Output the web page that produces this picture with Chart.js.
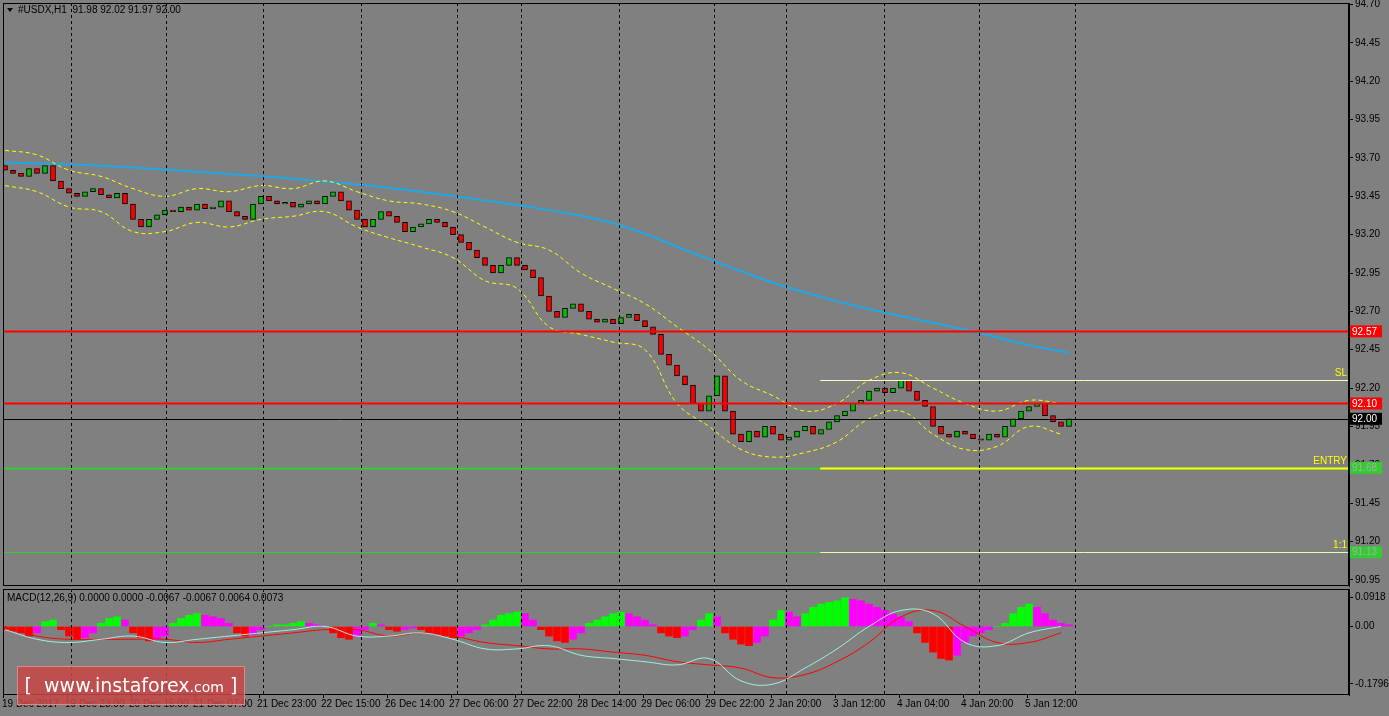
<!DOCTYPE html>
<html><head><meta charset="utf-8">
<script src="https://cdn.jsdelivr.net/npm/chart.js@4.4.0/dist/chart.umd.min.js"></script>
<style>
body{margin:0;background:#808080;width:1389px;height:716px;overflow:hidden;position:relative;font-family:"Liberation Sans",Arial,sans-serif}
canvas{position:absolute;left:0}
#wm{position:absolute;left:17px;top:666px;width:226px;height:37px;background:rgba(200,70,70,0.85);border:1px solid #d88;color:#fff;font:19px "DejaVu Sans",sans-serif;line-height:37px;text-align:center;white-space:nowrap}
#wm small{font-size:14px}
</style></head><body>
<canvas id="main" width="1389" height="599" style="top:-5px"></canvas>
<canvas id="macd" width="1389" height="135" style="top:581px"></canvas>
<div id="wm">[&nbsp; www.instaforex<small>.com</small> ]</div>
<script>
const closes=[93.62,93.60,93.58,93.63,93.60,93.65,93.55,93.50,
93.47,93.45,93.48,93.50,93.46,93.44,93.47,93.40,93.30,
93.25,93.30,93.33,93.36,93.35,93.38,93.36,93.40,93.37,
93.38,93.42,93.35,93.32,93.30,93.40,93.45,93.42,
93.40,93.41,93.38,93.40,93.42,93.40,93.45,93.48,
93.42,93.36,93.30,93.25,93.30,93.35,93.32,93.28,
93.22,93.25,93.27,93.30,93.28,93.25,93.20,93.15,
93.10,93.05,93.00,92.95,93.00,93.05,93.00,92.97,
92.92,92.80,92.70,92.66,92.72,92.75,92.70,92.65,
92.63,92.65,92.62,92.66,92.68,92.64,92.60,92.55,
92.42,92.35,92.28,92.22,92.10,92.05,92.15,92.28,
92.05,91.90,91.85,91.92,91.88,91.95,91.90,91.86,
91.88,91.92,91.95,91.90,91.93,91.98,92.02,92.05,
92.10,92.12,92.18,92.20,92.17,92.20,92.25,92.18,
92.12,92.08,91.95,91.90,91.88,91.92,91.90,91.87,
91.86,91.90,91.88,91.95,92.00,92.05,92.08,92.10,
92.02,91.98,91.95,92.00];
const firstOpen=93.65;
const maIdx=[0,12,24,37,49,59,68,77,87,97,106,112,120,128,133];
const maVal=[93.67,93.65,93.61,93.56,93.50,93.43,93.36,93.26,93.06,92.87,92.74,92.67,92.58,92.48,92.43];
const bandIdx=[0,4,8,12,16,20,24,28,32,36,40,44,48,52,56,60,64,68,72,76,80,84,88,92,96,100,104,108,112,116,120,124,128,132];
const upper=[93.75,93.72,93.62,93.58,93.50,93.45,93.50,93.48,93.52,93.50,93.55,93.48,93.42,93.40,93.35,93.25,93.15,93.10,92.95,92.85,92.75,92.60,92.45,92.25,92.15,92.05,92.10,92.25,92.30,92.20,92.10,92.05,92.12,92.10];
const lower=[93.52,93.48,93.38,93.35,93.22,93.22,93.28,93.25,93.30,93.32,93.35,93.25,93.18,93.12,93.05,92.90,92.85,92.60,92.55,92.50,92.45,92.10,91.95,91.80,91.75,91.78,91.85,92.00,92.05,91.90,91.80,91.82,91.95,91.90];
const hist=[-0.01,-0.015,-0.02,-0.03,-0.02,0.015,0.02,-0.01,-0.03,-0.04,-0.035,-0.02,0.01,0.025,0.03,0.02,
-0.02,-0.035,-0.045,-0.04,-0.03,0.01,0.025,0.035,0.04,0.035,0.03,0.025,0.01,-0.02,-0.03,-0.025,-0.01,
0.0,0.005,0.005,0.01,0.015,0.01,0.005,0.0,-0.02,-0.035,-0.04,-0.03,-0.01,0.01,0.005,
-0.01,-0.015,-0.01,-0.005,-0.01,-0.02,-0.025,-0.03,-0.035,-0.03,-0.02,-0.01,0.005,
0.02,0.035,0.04,0.045,0.04,0.02,-0.01,-0.03,-0.045,-0.05,-0.04,-0.02,0.01,0.02,0.03,
0.04,0.045,0.04,0.03,0.02,0.005,-0.02,-0.03,-0.035,-0.03,-0.01,0.02,0.04,0.03,
-0.02,-0.04,-0.055,-0.06,-0.05,-0.03,0.02,0.05,0.045,0.03,
0.04,0.06,0.07,0.075,0.08,0.09,0.085,0.08,0.07,0.06,0.05,0.04,0.03,0.015,
-0.02,-0.05,-0.08,-0.1,-0.105,-0.09,-0.05,-0.03,-0.02,-0.01,0.0,0.01,
0.04,0.06,0.07,0.06,0.04,0.02,0.01,0.005];
const macdLine=[-0.01,-0.04,-0.05,-0.04,-0.03,-0.05,-0.04,-0.03,-0.02,-0.01,0.0,-0.03,-0.03,-0.02,-0.04,-0.07,-0.07,-0.06,-0.09,-0.10,-0.11,-0.12,-0.10,-0.17,-0.18,-0.13,-0.07,0.0,0.05,0.04,-0.05,-0.06,-0.02,0.0];
const signalLine=[0.0,-0.03,-0.04,-0.04,-0.04,-0.04,-0.05,-0.04,-0.03,-0.02,-0.01,-0.01,-0.03,-0.02,-0.03,-0.05,-0.06,-0.07,-0.07,-0.08,-0.09,-0.11,-0.12,-0.13,-0.16,-0.15,-0.11,-0.05,0.03,0.05,0.0,-0.05,-0.05,-0.02];
const sepIdx=[8.25,20.1,32.25,44.5,56.5,64.5,76.75,88.6,97.6,109.9,121.75,133.75];
const timeLabels=["19 Dec 2017","19 Dec 23:00","20 Dec 15:00","21 Dec 07:00","21 Dec 23:00","22 Dec 15:00","26 Dec 14:00","27 Dec 06:00","27 Dec 22:00","28 Dec 14:00","29 Dec 06:00","29 Dec 22:00","2 Jan 20:00","3 Jan 12:00","4 Jan 04:00","4 Jan 20:00","5 Jan 12:00"];
const priceTicks=[90.95,91.20,91.45,91.70,91.95,92.20,92.45,92.70,92.95,93.20,93.45,93.70,93.95,94.20,94.45,94.70];
const levels=[{v:92.57,c:'#ff0000',box:'#ff0000',t:'#fff'},{v:92.10,c:'#ff0000',box:'#ff0000',t:'#fff'},{v:92.00,c:'#000',box:'#000',t:'#fff',w:1},{v:91.68,c:'#33cc33',box:'#33cc33',t:'#aaa'},{v:91.13,c:'#33cc33',box:'#33cc33',t:'#aaa',w:1}];
const trade=[{v:92.25,c:'#ffffc0',lbl:'SL'},{v:91.68,c:'#ffff00',lbl:'ENTRY'},{v:91.13,c:'#e0ffb0',lbl:'1:1'}];
const tradeStart=101.9;
const macdTicks=[0.0918,0,-0.1796];

const XMIN=-0.25,XMAX=168;
const F='"Liberation Sans",Arial,sans-serif';
const opens=closes.map((c,i)=>i?closes[i-1]:firstOpen);
const candles=closes.map((c,i)=>({x:i,y:[opens[i],c]}));
const candleCol=closes.map((c,i)=>c>=opens[i]?'#00c000':'#ff0000');

function sepPlugin(drawLabels){return {id:'sep',afterDatasetsDraw(ch){
 const {ctx,chartArea:a,scales:{x}}=ch;ctx.save();ctx.strokeStyle='#000';ctx.lineWidth=1;ctx.setLineDash([3,3]);
 sepIdx.forEach(i=>{const px=Math.round(x.getPixelForValue(i))+0.5;ctx.beginPath();ctx.moveTo(px,a.top);ctx.lineTo(px,a.bottom);ctx.stroke();});
 ctx.setLineDash([]);ctx.strokeRect(a.left+0.5,a.top+0.5,a.right-a.left-1,a.bottom-a.top-1);
 if(drawLabels){ctx.fillStyle='#000';ctx.font='10px '+F;ctx.textBaseline='top';ctx.textAlign='left';
  timeLabels.forEach((t,k)=>{const px=x.getPixelForValue(k*8-0.25);ctx.fillText(t,Math.max(px-2,2),a.bottom+4);
   ctx.beginPath();ctx.moveTo(px+0.5,a.bottom);ctx.lineTo(px+0.5,a.bottom+3);ctx.stroke();});}
 ctx.restore();}};}

const levelPlugin={id:'lv',afterDatasetsDraw(ch){
 const {ctx,chartArea:a,scales:{x,y}}=ch;ctx.save();
 levels.forEach(l=>{const py=Math.round(y.getPixelForValue(l.v))+0.5;ctx.strokeStyle=l.c;ctx.lineWidth=l.w||2;ctx.beginPath();ctx.moveTo(a.left,py);ctx.lineTo(a.right,py);ctx.stroke();});
 trade.forEach(t=>{const py=Math.round(y.getPixelForValue(t.v))+0.5;const x0=x.getPixelForValue(tradeStart);ctx.strokeStyle=t.c;ctx.lineWidth=t.lbl==='ENTRY'?2:1;ctx.beginPath();ctx.moveTo(x0,py);ctx.lineTo(a.right,py);ctx.stroke();
  ctx.fillStyle='#ffff00';ctx.font='10px '+F;ctx.textAlign='right';ctx.textBaseline='bottom';ctx.fillText(t.lbl,a.right-2,py-2);});
 ctx.font='10px '+F;ctx.textAlign='left';ctx.textBaseline='middle';
 levels.forEach(l=>{const py=y.getPixelForValue(l.v);ctx.fillStyle=l.box;ctx.fillRect(a.right+1,py-6,32,12);ctx.fillStyle=l.t;ctx.fillText(l.v.toFixed(2),a.right+3,py+0.5);});
 ctx.fillStyle='#000';ctx.font='10px '+F;ctx.textAlign='left';ctx.textBaseline='middle';
 ctx.fillText('#USDX,H1  91.98 92.02 91.97 92.00',18,a.top+7);
 ctx.beginPath();ctx.moveTo(7,a.top+5);ctx.lineTo(13,a.top+5);ctx.lineTo(10,a.top+9);ctx.closePath();ctx.fill();
 ctx.restore();}};

Chart.defaults.devicePixelRatio=1;Chart.defaults.animation=false;
const yRightCommon=(min,max,ticks,fmt)=>({position:'right',min,max,afterFit(s){s.width=40;},
 afterBuildTicks(s){s.ticks=ticks.map(v=>({value:v}));},
 ticks:{color:'#000',font:{size:10,family:F},padding:2,callback:fmt,autoSkip:false},
 grid:{drawOnChartArea:false,color:'#000',tickLength:4},border:{color:'#000'}});

new Chart(document.getElementById('main'),{type:'bar',
 data:{datasets:[
  {type:'line',data:bandIdx.map((i,k)=>({x:i,y:upper[k]})),borderColor:'#ffff00',borderWidth:1,borderDash:[4,3],pointRadius:0,tension:0.4},
  {type:'line',data:bandIdx.map((i,k)=>({x:i,y:lower[k]})),borderColor:'#ffff00',borderWidth:1,borderDash:[4,3],pointRadius:0,tension:0.4},
  {type:'line',data:maIdx.map((i,k)=>({x:i,y:maVal[k]})),borderColor:'#1fa8e8',borderWidth:2,pointRadius:0,tension:0.4},
  {data:candles,backgroundColor:candleCol,borderColor:'#000',borderWidth:1,barThickness:5,borderSkipped:false,grouped:false}
 ]},
 options:{responsive:false,layout:{padding:{left:3,top:3,bottom:2,right:0}},plugins:{legend:{display:false},tooltip:{enabled:false}},
  scales:{x:{type:'linear',offset:false,min:XMIN,max:XMAX,display:false},
   y:yRightCommon(90.91,94.71,priceTicks,v=>v.toFixed(2))}},
 plugins:[levelPlugin,sepPlugin(false)]});

const histCol=hist.map((v,i)=>{const p=i?hist[i-1]:0;return v>=0?(v>=p?'#00ff00':'#ff00ff'):(v<=p?'#ff0000':'#ff00ff');});
new Chart(document.getElementById('macd'),{type:'bar',
 data:{datasets:[
  {type:'line',data:bandIdx.map((i,k)=>({x:i,y:macdLine[k]})),borderColor:'#a0f0e0',borderWidth:1,pointRadius:0,tension:0.4},
  {type:'line',data:bandIdx.map((i,k)=>({x:i,y:signalLine[k]})),borderColor:'#ff0000',borderWidth:1,pointRadius:0,tension:0.4},
  {data:hist.map((v,i)=>({x:i,y:v})),backgroundColor:histCol,barThickness:7,grouped:false}
 ]},
 options:{responsive:false,layout:{padding:{left:3,top:2,bottom:21,right:0}},plugins:{legend:{display:false},tooltip:{enabled:false}},
  scales:{x:{type:'linear',offset:false,min:XMIN,max:XMAX,display:false},
   y:yRightCommon(-0.214,0.117,macdTicks,v=>v===0?'0.00':String(v))}},
 plugins:[sepPlugin(true),{id:'ml',afterDraw(ch){const c=ch.ctx;c.save();c.fillStyle='#000';c.font='10px '+F;c.textBaseline='middle';c.fillText('MACD(12,26,9) 0.0000 0.0000 -0.0067 -0.0067 0.0064 0.0073',7,ch.chartArea.top+9);c.restore();}}]});
</script></body></html>
